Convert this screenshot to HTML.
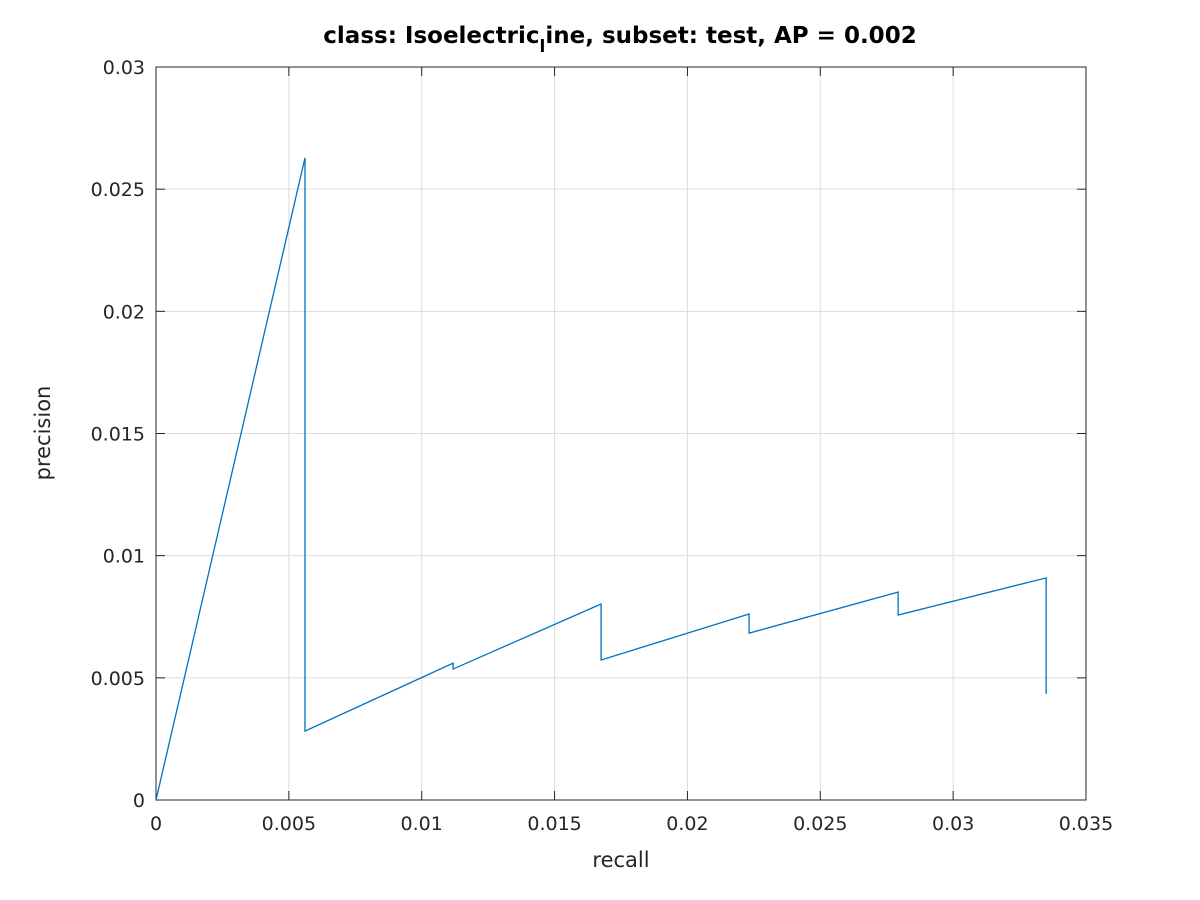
<!DOCTYPE html>
<html><head><meta charset="utf-8"><style>
body{margin:0;background:#fff;}
svg{display:block;font-family:"DejaVu Sans","Liberation Sans",sans-serif;}
</style></head><body>
<svg id="chart" width="1200" height="900">
<rect x="0" y="0" width="1200" height="900" fill="#fff"/>
<g id="grid"></g>
<g id="ticks"></g>
<rect x="156" y="67" width="930" height="733" fill="none" stroke="#262626" stroke-width="1"/>
<g id="series"></g>
<text x="620" y="43" text-anchor="middle" font-size="23" font-weight="bold" fill="#000">class: Isoelectric<tspan font-size="17" dy="9">l</tspan><tspan dy="-9">ine, subset: test, AP = 0.002</tspan></text>
<text x="621" y="867" text-anchor="middle" font-size="21" fill="#262626">recall</text>
<text transform="translate(50,433) rotate(-90)" text-anchor="middle" font-size="21" fill="#262626">precision</text>
</svg>
<script>
const recall = [0, 0.005607, 0.005607, 0.01118, 0.01118, 0.01675, 0.01675, 0.02232, 0.02232, 0.02793, 0.02793, 0.0335, 0.0335];
const precision = [0, 0.02628, 0.00282, 0.0056, 0.00536, 0.00802, 0.00573, 0.00761, 0.00683, 0.00851, 0.00757, 0.00909, 0.00434];
const xTicks = [0, 0.005, 0.01, 0.015, 0.02, 0.025, 0.03, 0.035];
const xTickLabels = ["0", "0.005", "0.01", "0.015", "0.02", "0.025", "0.03", "0.035"];
const yTicks = [0, 0.005, 0.01, 0.015, 0.02, 0.025, 0.03];
const yTickLabels = ["0", "0.005", "0.01", "0.015", "0.02", "0.025", "0.03"];

const X0=156, X1=1086, Y0=800, Y1=67, XMAX=0.035, YMAX=0.03;
const sx = v => X0 + v / XMAX * (X1 - X0);
const sy = v => Y0 - v / YMAX * (Y0 - Y1);
const NS = "http://www.w3.org/2000/svg";
const grid = document.getElementById('grid');
const ticks = document.getElementById('ticks');
function mk(tag, attrs, parent){const e=document.createElementNS(NS,tag);for(const k in attrs)e.setAttribute(k,attrs[k]);parent.appendChild(e);return e;}

xTicks.forEach((t,i)=>{
  const x=sx(t);
  const g=mk('line',{x1:x,x2:x,y1:Y1,y2:Y0,stroke:'#dcdcdc','stroke-width':1},grid);
  
  
  const a=mk('line',{x1:x,x2:x,y1:Y0,y2:Y0-9,stroke:'#262626'},ticks);
  
  
  const b=mk('line',{x1:x,x2:x,y1:Y1,y2:Y1+9,stroke:'#262626'},ticks);
  
  
  const l=mk('text',{x:x,y:Y0+30,'text-anchor':'middle','font-size':19,fill:'#262626'},ticks);
  l.textContent=xTickLabels[i];
  
  
});
yTicks.forEach((t,i)=>{
  const y=sy(t);
  const g=mk('line',{x1:X0,x2:X1,y1:y,y2:y,stroke:'#dcdcdc','stroke-width':1},grid);
  
  
  const a=mk('line',{x1:X0,x2:X0+9,y1:y,y2:y,stroke:'#262626'},ticks);
  
  
  const b=mk('line',{x1:X1,x2:X1-9,y1:y,y2:y,stroke:'#262626'},ticks);
  
  
  const l=mk('text',{x:X0-11,y:y+7,'text-anchor':'end','font-size':19,fill:'#262626'},ticks);
  l.textContent=yTickLabels[i];
  
  
});
const pts = recall.map((r,i)=>sx(r).toFixed(2)+','+sy(precision[i]).toFixed(2)).join(' ');
const line = mk('polyline',{points:pts,fill:'none',stroke:'#0072bd','stroke-width':1.3},document.getElementById('series'));


</script>
</body></html>
